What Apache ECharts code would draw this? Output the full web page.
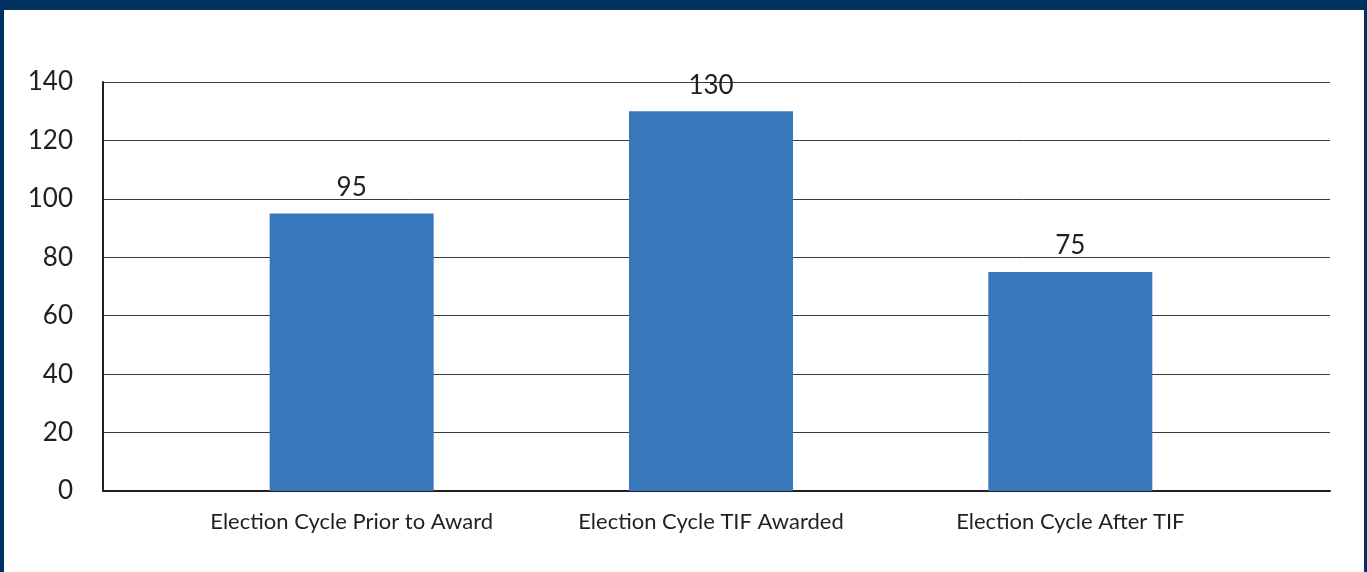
<!DOCTYPE html>
<html>
<head>
<meta charset="utf-8">
<script src="https://cdn.jsdelivr.net/npm/echarts@6/dist/echarts.min.js"></script>
<style>
  html, body { margin: 0; padding: 0; background: #ffffff; }
  #chart { position: absolute; left: 0; top: 0; width: 1367px; height: 572px; }
  #frame {
    position: absolute; left: 0; top: 0; width: 1367px; height: 572px;
    box-sizing: border-box; pointer-events: none;
    border-top: 10px solid #013264; border-left: 4px solid #013264; border-right: 3px solid #013264;
  }
</style>
</head>
<body>
<div id="chart"></div>
<div id="frame"></div>
<script>
// Election-cycle counts
const categories = ['Election Cycle Prior to Award', 'Election Cycle TIF Awarded', 'Election Cycle After TIF'];
const counts = [95, 130, 75];
const yTicks = [0, 20, 40, 60, 80, 100, 120, 140];

const textColor = '#231f20';
const fontFamily = 'Lato, "Noto Sans", sans-serif';

const chart = echarts.init(document.getElementById('chart'), null, { renderer: 'canvas' });

chart.setOption({
  animation: false,
  grid: [
    // frame grid: y labels, gridlines and axis lines across the full plot
    { left: 103, right: 37, top: 82, bottom: 81 },
    // bar grid, slightly inset so the categories sit where the bars are drawn
    { left: 172, right: 117, top: 82, bottom: 81 }
  ],
  xAxis: [
    {
      gridIndex: 0, type: 'category', data: [''],
      axisLine: { show: true, lineStyle: { color: '#231f20', width: 2 } },
      axisTick: { show: false }, axisLabel: { show: false }
    },
    {
      gridIndex: 1, type: 'category', data: categories,
      axisLine: { show: false }, axisTick: { show: false },
      axisLabel: { color: textColor, fontFamily, fontSize: 22, margin: 20, interval: 0, hideOverlap: false }
    }
  ],
  yAxis: [
    {
      gridIndex: 0, type: 'value', min: yTicks[0], max: yTicks[yTicks.length - 1], interval: 20,
      axisLine: { show: true, lineStyle: { color: '#231f20', width: 2 } },
      axisTick: { show: false },
      splitLine: { show: true, lineStyle: { color: '#3a3a3a', width: 1 } },
      axisLabel: { color: textColor, fontFamily, fontSize: 26, margin: 30 }
    },
    {
      gridIndex: 1, type: 'value', min: yTicks[0], max: yTicks[yTicks.length - 1], interval: 20,
      show: false
    }
  ],
  series: [{
    type: 'bar',
    xAxisIndex: 1, yAxisIndex: 1,
    data: counts,
    barWidth: 164,
    itemStyle: { color: '#3777bc' },
    label: {
      show: true, position: 'top', distance: 13,
      color: textColor, fontFamily, fontSize: 26
    }
  }]
});
</script>
</body>
</html>
